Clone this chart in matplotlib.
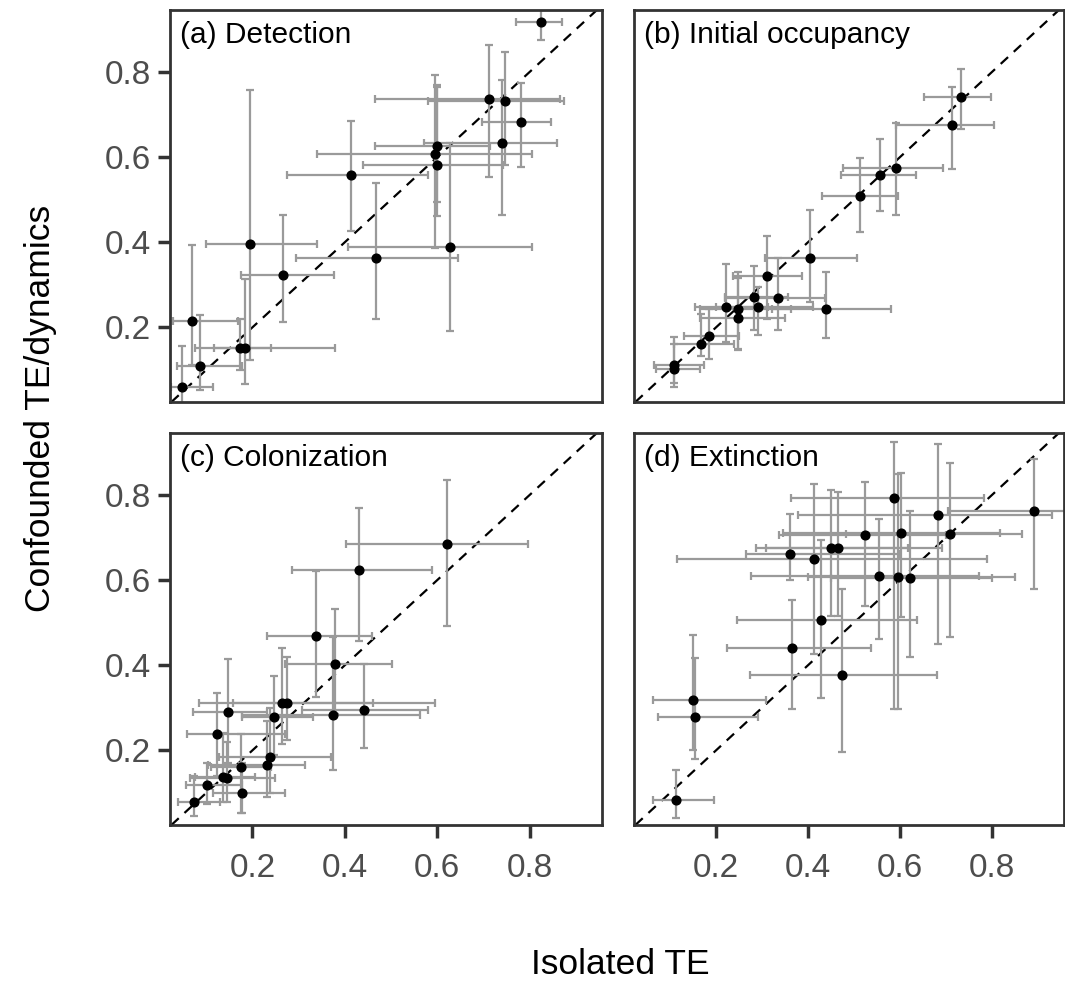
import matplotlib
matplotlib.use("Agg")
import matplotlib.pyplot as plt
import numpy as np

plt.rcParams['font.family'] = ['Liberation Sans', 'DejaVu Sans']

# ---------------- data ----------------
panel_titles = ["(a) Detection", "(b) Initial occupancy", "(c) Colonization", "(d) Extinction"]
x_ticks = [0.2, 0.4, 0.6, 0.8]
y_ticks = [0.2, 0.4, 0.6, 0.8]

# Panel (a) Detection: x, y, x_low, x_high, y_low, y_high
a_x    = [0.825, 0.711, 0.746, 0.780, 0.739, 0.599, 0.595, 0.600, 0.4125, 0.195, 0.627, 0.467, 0.266, 0.070, 0.173, 0.184, 0.086, 0.048]
a_y    = [0.917, 0.735, 0.732, 0.681, 0.633, 0.626, 0.607, 0.581, 0.557, 0.395, 0.389, 0.362, 0.323, 0.215, 0.151, 0.151, 0.109, 0.061]
a_xlo  = [0.770, 0.465, 0.580, 0.696, 0.571, 0.465, 0.339, 0.440, 0.276, 0.100, 0.406, 0.294, 0.176, 0.028, 0.117, 0.076, 0.038, 0.024]
a_xhi  = [0.869, 0.865, 0.874, 0.845, 0.858, 0.714, 0.804, 0.743, 0.580, 0.339, 0.804, 0.645, 0.377, 0.170, 0.240, 0.379, 0.177, 0.114]
a_ylo  = [0.874, 0.554, 0.581, 0.577, 0.464, 0.461, 0.386, 0.495, 0.427, 0.123, 0.192, 0.219, 0.213, 0.111, 0.100, 0.067, 0.053, 0.020]
a_yhi  = [0.950, 0.864, 0.847, 0.773, 0.780, 0.764, 0.792, 0.770, 0.685, 0.757, 0.632, 0.540, 0.464, 0.393, 0.220, 0.313, 0.229, 0.156]

# Panel (b) Initial occupancy
b_x    = [0.732, 0.712, 0.592, 0.557, 0.513, 0.404, 0.440, 0.310, 0.334, 0.283, 0.291, 0.222, 0.247, 0.247, 0.184, 0.168, 0.108, 0.108]
b_y    = [0.740, 0.675, 0.575, 0.557, 0.509, 0.362, 0.244, 0.320, 0.268, 0.272, 0.248, 0.247, 0.243, 0.221, 0.180, 0.161, 0.113, 0.102]
b_xlo  = [0.652, 0.591, 0.476, 0.472, 0.431, 0.307, 0.321, 0.238, 0.220, 0.220, 0.200, 0.154, 0.165, 0.165, 0.130, 0.108, 0.065, 0.070]
b_xhi  = [0.798, 0.804, 0.694, 0.635, 0.595, 0.507, 0.580, 0.387, 0.436, 0.356, 0.410, 0.314, 0.364, 0.350, 0.251, 0.240, 0.173, 0.165]
b_ylo  = [0.665, 0.571, 0.464, 0.474, 0.423, 0.260, 0.176, 0.220, 0.195, 0.194, 0.182, 0.166, 0.150, 0.147, 0.127, 0.133, 0.061, 0.070]
b_yhi  = [0.806, 0.765, 0.679, 0.642, 0.597, 0.475, 0.331, 0.414, 0.362, 0.345, 0.295, 0.350, 0.330, 0.315, 0.244, 0.232, 0.178, 0.160]

# Panel (c) Colonization
c_x    = [0.620, 0.431, 0.337, 0.379, 0.442, 0.375, 0.264, 0.275, 0.246, 0.148, 0.124, 0.238, 0.232, 0.176, 0.136, 0.145, 0.103, 0.178, 0.074]
c_y    = [0.685, 0.623, 0.469, 0.404, 0.295, 0.283, 0.312, 0.312, 0.279, 0.290, 0.238, 0.185, 0.165, 0.162, 0.138, 0.135, 0.118, 0.101, 0.080]
c_xlo  = [0.402, 0.286, 0.231, 0.271, 0.307, 0.177, 0.085, 0.159, 0.177, 0.071, 0.059, 0.127, 0.105, 0.110, 0.075, 0.066, 0.056, 0.116, 0.040]
c_xhi  = [0.795, 0.588, 0.458, 0.501, 0.580, 0.562, 0.595, 0.460, 0.332, 0.231, 0.271, 0.370, 0.314, 0.240, 0.205, 0.250, 0.177, 0.271, 0.130]
c_ylo  = [0.492, 0.457, 0.325, 0.285, 0.206, 0.155, 0.215, 0.225, 0.190, 0.170, 0.140, 0.100, 0.090, 0.052, 0.080, 0.080, 0.075, 0.052, 0.045]
c_yhi  = [0.835, 0.769, 0.620, 0.531, 0.404, 0.467, 0.440, 0.420, 0.375, 0.415, 0.335, 0.300, 0.270, 0.239, 0.240, 0.220, 0.170, 0.170, 0.140]

# Panel (d) Extinction
d_x    = [0.890, 0.683, 0.586, 0.709, 0.603, 0.524, 0.449, 0.465, 0.361, 0.413, 0.555, 0.595, 0.622, 0.429, 0.366, 0.474, 0.150, 0.155, 0.114]
d_y    = [0.763, 0.753, 0.792, 0.709, 0.710, 0.706, 0.674, 0.674, 0.660, 0.650, 0.609, 0.607, 0.604, 0.506, 0.441, 0.378, 0.318, 0.279, 0.083]
d_xlo  = [0.703, 0.379, 0.363, 0.483, 0.345, 0.337, 0.286, 0.308, 0.266, 0.116, 0.276, 0.400, 0.450, 0.245, 0.224, 0.273, 0.064, 0.075, 0.064]
d_xhi  = [0.990, 0.930, 0.782, 0.864, 0.818, 0.700, 0.617, 0.690, 0.600, 0.789, 0.772, 0.849, 0.800, 0.636, 0.537, 0.681, 0.309, 0.292, 0.195]
d_ylo  = [0.579, 0.449, 0.297, 0.467, 0.512, 0.539, 0.516, 0.516, 0.601, 0.427, 0.461, 0.297, 0.420, 0.323, 0.297, 0.196, 0.202, 0.180, 0.042]
d_yhi  = [0.883, 0.919, 0.923, 0.874, 0.851, 0.831, 0.812, 0.806, 0.755, 0.825, 0.743, 0.848, 0.763, 0.693, 0.553, 0.580, 0.470, 0.418, 0.155]

panels = [
    (a_x, a_y, a_xlo, a_xhi, a_ylo, a_yhi),
    (b_x, b_y, b_xlo, b_xhi, b_ylo, b_yhi),
    (c_x, c_y, c_xlo, c_xhi, c_ylo, c_yhi),
    (d_x, d_y, d_xlo, d_xhi, d_ylo, d_yhi),
]

# ---------------- layout ----------------
W, H = 1065, 983
fig = plt.figure(figsize=(W / 100, H / 100), dpi=100)

rects_px = [
    (170, 10, 432, 392),
    (634, 10, 430, 392),
    (170, 433, 432, 392),
    (634, 433, 430, 392),
]

xlim = (0.022, 0.956)
ylim = (0.025, 0.945)
spine_col = '#333333'
tick_col = '#4D4D4D'

for i, ((l, t, w, h), data, title) in enumerate(zip(rects_px, panels, panel_titles)):
    ax = fig.add_axes([l / W, 1 - (t + h) / H, w / W, h / H])
    x, y, xlo, xhi, ylo, yhi = [np.asarray(v) for v in data]
    ax.axline((0, 0), slope=1, color='black', lw=1.6, ls=(0, (4.5, 3.5)), zorder=1)
    ax.errorbar(x, y, xerr=[x - xlo, xhi - x], yerr=[y - ylo, yhi - y],
                fmt='none', ecolor='#9a9a9a', elinewidth=1.6, capsize=2.8,
                capthick=1.6, zorder=2)
    ax.plot(x, y, 'o', color='black', ms=6.3, zorder=3)
    ax.set_xlim(*xlim)
    ax.set_ylim(*ylim)
    ax.set_xticks(x_ticks)
    ax.set_yticks(y_ticks)
    for s in ax.spines.values():
        s.set_color(spine_col)
        s.set_linewidth(2.0)
    ax.tick_params(direction='out', length=9, width=2.5, color=spine_col,
                   labelcolor=tick_col, labelsize=24, pad=5)
    ax.tick_params(axis='x', pad=11)
    if i in (0, 1):
        ax.tick_params(axis='x', labelbottom=False, length=0)
    if i in (1, 3):
        ax.tick_params(axis='y', labelleft=False, length=0)
    ax.set_xticklabels([f"{v:.1f}" for v in x_ticks])
    ax.set_yticklabels([f"{v:.1f}" for v in y_ticks])
    ax.text(0.024, 0.972, title, transform=ax.transAxes, ha='left', va='top',
            fontsize=21.5, color='black')

fig.text(0.582, 1 - 965 / H, "Isolated TE", ha='center', va='center', fontsize=25.5)
fig.text(41 / W, 1 - 408 / H, "Confounded TE/dynamics", ha='center', va='center',
         rotation=90, fontsize=25.5)

fig.savefig("out.png", dpi=100)
